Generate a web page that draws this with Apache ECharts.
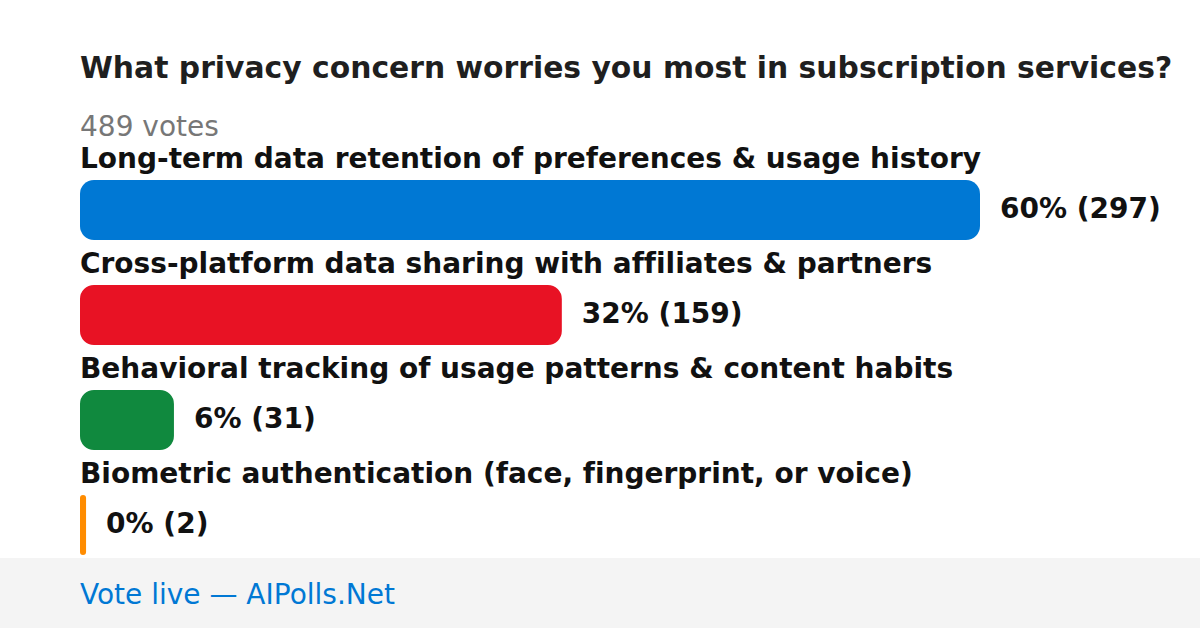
<!DOCTYPE html>
<html><head><meta charset="utf-8">
<script src="https://cdn.jsdelivr.net/npm/echarts@6/dist/echarts.min.js"></script>
<style>html,body{margin:0;padding:0;background:#fff}#c{width:1200px;height:628px}#c text{font-variant-ligatures:none;}</style>
</head><body><div id="c"></div>
<script>
const titleText = "What privacy concern worries you most in subscription services?";
const totalVotesText = "489 votes";
const footerText = "Vote live \u2014 AIPolls.Net";
const categories = [
  "Long-term data retention of preferences & usage history",
  "Cross-platform data sharing with affiliates & partners",
  "Behavioral tracking of usage patterns & content habits",
  "Biometric authentication (face, fingerprint, or voice)"
];
const votes = [297, 159, 31, 2];
const percents = [60, 32, 6, 0];
const colors = ["#0078d4", "#e81224", "#10893e", "#ff8c00"];

const FONT = "DejaVu Sans";
const chart = echarts.init(document.getElementById('c'), null, {renderer: 'svg'});
chart.setOption({
  animation: false,
  backgroundColor: '#ffffff',
  grid: {left: 80, width: 900, top: 157.5, height: 420, containLabel: false},
  xAxis: {type: 'value', min: 0, max: function (v) { return v.max; }, show: false},
  yAxis: {type: 'category', data: categories, inverse: true, show: false},
  graphic: [
    {type: 'rect', left: 0, top: 558, shape: {width: 1200, height: 70}, style: {fill: '#f4f4f4'}, z: 0},
    {type: 'text', left: 80, top: 52, style: {text: titleText, font: 'bold 29.8px "DejaVu Sans"', fill: '#1f1f1f'}},
    {type: 'text', left: 80, top: 112.5, style: {text: totalVotesText, font: '28px "DejaVu Sans"', fill: '#777777'}},
    {type: 'text', left: 80, top: 580.5, style: {text: footerText, font: '28px "DejaVu Sans"', fill: '#0078d4'}}
  ],
  series: [
    {
      type: 'bar',
      barWidth: 60,
      data: votes.map((v, i) => ({value: v, itemStyle: {color: colors[i], borderRadius: 14}})),
      label: {
        show: true, position: 'right', distance: 20, offset: [0, -2],
        fontFamily: FONT, fontWeight: 'bold', fontSize: 28, color: '#111111',
        formatter: p => percents[p.dataIndex] + '% (' + votes[p.dataIndex] + ')'
      },
      silent: true
    },
    {
      type: 'scatter',
      symbolSize: 0,
      itemStyle: {opacity: 1},
      data: categories.map((c, i) => [0, i]),
      label: {
        show: true, position: 'right', distance: 0, offset: [0, -51.5],
        fontFamily: FONT, fontWeight: 'bold', fontSize: 28, color: '#111111', opacity: 1,
        formatter: p => categories[p.dataIndex]
      },
      silent: true
    }
  ]
});
</script></body></html>
